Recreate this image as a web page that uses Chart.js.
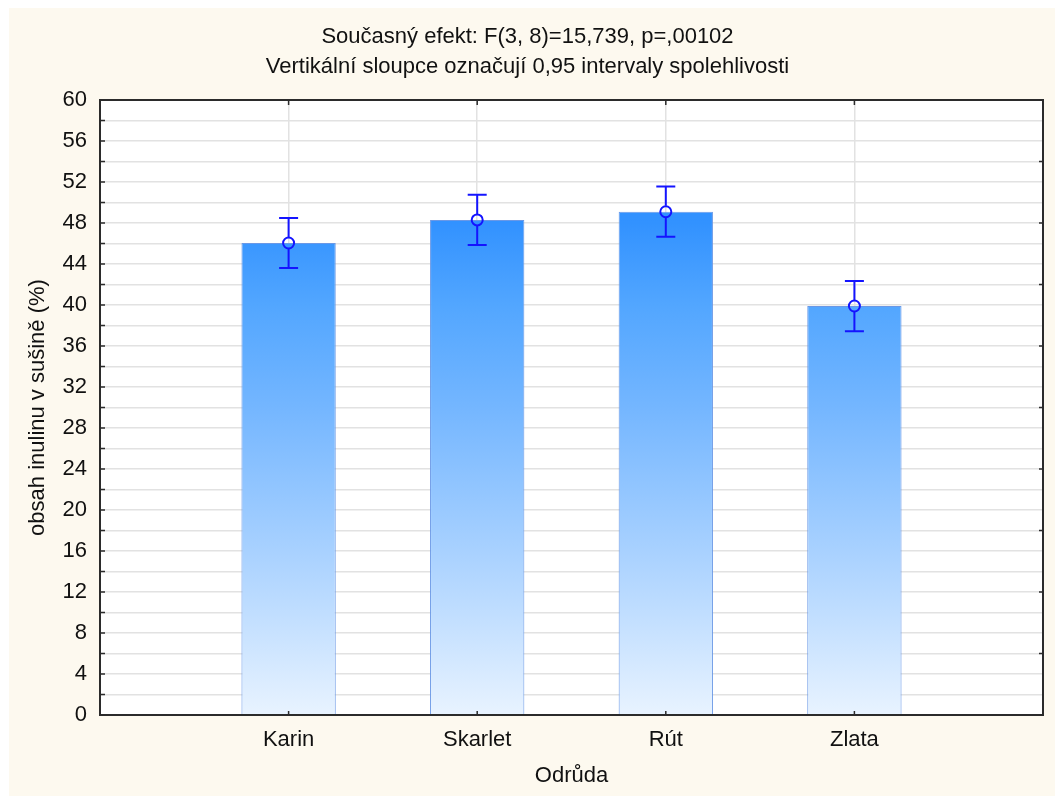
<!DOCTYPE html>
<html>
<head>
<meta charset="utf-8">
<script src="https://cdn.jsdelivr.net/npm/chart.js@4.4.1/dist/chart.umd.min.js"></script>
<style>
  html, body { margin: 0; padding: 0; background: #ffffff; }
  #wrap { position: absolute; left: 9px; top: 8px; width: 1046px; height: 788px; }
  canvas { display: block; }
</style>
</head>
<body>
<div id="wrap"><canvas id="c" width="1046" height="788"></canvas></div>
<script>
// ---- data ----
const categories = ['Karin', 'Skarlet', 'Rút', 'Zlata'];
const means = [46.05, 48.3, 49.1, 39.9];
const ciLower = [43.6, 45.85, 46.65, 37.45];
const ciUpper = [48.5, 50.75, 51.55, 42.35];
const yTicks = { min: 0, max: 60, step: 2, labelEvery: 4, rightEvery: 6 };
const titleLines = ['Současný efekt: F(3, 8)=15,739, p=,00102', 'Vertikální sloupce označují 0,95 intervaly spolehlivosti'];
const xTitle = 'Odrůda';
const yTitle = 'obsah inulinu v sušině (%)';

const FONT = "'Liberation Sans', Arial, Helvetica, sans-serif";
Chart.defaults.font.family = FONT;
Chart.defaults.color = '#111111';

const points = categories.map((c, i) => ({ x: i + 1, y: means[i] }));
const xMax = categories.length + 1;

const bgPlugin = {
  id: 'bg',
  beforeDraw(chart) {
    const { ctx, chartArea: a } = chart;
    ctx.save();
    ctx.fillStyle = '#fdf9ef';
    ctx.fillRect(0, 0, chart.width, chart.height);
    ctx.fillStyle = '#ffffff';
    ctx.fillRect(a.left, a.top, a.right - a.left, a.bottom - a.top);
    ctx.restore();
  }
};

const overlayPlugin = {
  id: 'overlay',
  afterDatasetsDraw(chart) {
    const { ctx, chartArea: a, scales: { x, y } } = chart;
    ctx.save();
    // error bars
    ctx.strokeStyle = '#1414ff';
    ctx.lineWidth = 2;
    const r = 6;
    categories.forEach((c, i) => {
      const px = x.getPixelForValue(i + 1);
      const pt = y.getPixelForValue(ciUpper[i]);
      const pb = y.getPixelForValue(ciLower[i]);
      const pm = y.getPixelForValue(means[i]);
      ctx.beginPath();
      ctx.moveTo(px, pt); ctx.lineTo(px, pm - r);
      ctx.moveTo(px, pm + r); ctx.lineTo(px, pb);
      ctx.moveTo(px - 9.5, pt); ctx.lineTo(px + 9.5, pt);
      ctx.moveTo(px - 9.5, pb); ctx.lineTo(px + 9.5, pb);
      ctx.stroke();
    });
    // frame
    ctx.strokeStyle = '#2b2b2b';
    ctx.lineWidth = 2;
    ctx.strokeRect(a.left, a.top, a.right - a.left, a.bottom - a.top);
    // inward ticks
    ctx.lineWidth = 1.5;
    ctx.beginPath();
    y.ticks.forEach(t => {
      const py = y.getPixelForValue(t.value);
      ctx.moveTo(a.left, py); ctx.lineTo(a.left + 5, py);
      if (t.value % yTicks.rightEvery === 0) { ctx.moveTo(a.right, py); ctx.lineTo(a.right - 4, py); }
    });
    x.ticks.forEach(t => {
      if (t.value < 1 || t.value > categories.length) return;
      const px = x.getPixelForValue(t.value);
      ctx.moveTo(px, a.bottom); ctx.lineTo(px, a.bottom - 4);
      ctx.moveTo(px, a.top); ctx.lineTo(px, a.top + 5);
    });
    ctx.stroke();
    ctx.restore();
  }
};

new Chart(document.getElementById('c'), {
  data: {
    datasets: [
      {
        type: 'line',
        data: points,
        showLine: false,
        pointRadius: 5.5,
        pointHoverRadius: 5.5,
        pointBorderWidth: 2,
        pointBorderColor: '#1414ff',
        pointBackgroundColor: 'rgba(0,0,0,0)',
        order: 0
      },
      {
        type: 'bar',
        data: points,
        barPercentage: 0.5,
        categoryPercentage: 1,
        borderWidth: 1,
        borderColor: '#6a98e6',
        order: 1,
        backgroundColor(ctx) {
          const area = ctx.chart.chartArea;
          if (!area) return '#5aa8ff';
          const g = ctx.chart.ctx.createLinearGradient(0, area.bottom, 0, area.top);
          g.addColorStop(0, '#e8f3ff');
          g.addColorStop(0.25, '#acd3ff');
          g.addColorStop(0.5, '#74b6ff');
          g.addColorStop(0.667, '#52a6ff');
          g.addColorStop(0.8, '#3292ff');
          g.addColorStop(1, '#1c82ff');
          return g;
        }
      }
    ]
  },
  options: {
    responsive: false,
    devicePixelRatio: 1,
    animation: false,
    layout: { padding: { left: 0, right: 9, top: 0, bottom: 0 } },
    plugins: {
      legend: { display: false },
      tooltip: { enabled: false },
      title: {
        display: true,
        text: titleLines,
        color: '#111111',
        font: { family: FONT, size: 22, weight: 'normal', lineHeight: 30 / 22 },
        padding: { top: 14, bottom: 18 }
      }
    },
    scales: {
      x: {
        type: 'linear',
        min: 0,
        max: xMax,
        offset: false,
        afterFit(s) { s.height = 81; },
        grid: {
          offset: false,
          drawTicks: false,
          lineWidth: 1.5,
          color(ctx) {
            const v = ctx.tick ? ctx.tick.value : 0;
            return (v < 1 || v > categories.length) ? 'rgba(0,0,0,0)' : '#e2e2e2';
          }
        },
        border: { display: false },
        ticks: {
          stepSize: 1,
          padding: 12,
          autoSkip: false,
          maxRotation: 0,
          color: '#111111',
          font: { size: 22 },
          callback(v) { return (v >= 1 && v <= categories.length) ? categories[v - 1] : ''; }
        },
        title: {
          display: true,
          text: xTitle,
          color: '#111111',
          font: { size: 22 },
          padding: { top: 0, bottom: 7 }
        }
      },
      y: {
        type: 'linear',
        min: yTicks.min,
        max: yTicks.max,
        afterFit(s) { s.width = 91; },
        grid: { drawTicks: false, lineWidth: 1.5, color: '#e2e2e2' },
        border: { display: false },
        ticks: {
          stepSize: yTicks.step,
          padding: 13,
          autoSkip: false,
          color: '#111111',
          font: { size: 22 },
          callback(v) { return v % yTicks.labelEvery === 0 ? v : ''; }
        },
        title: {
          display: true,
          text: yTitle,
          color: '#111111',
          font: { size: 22 },
          padding: { top: 16, bottom: 0 }
        }
      }
    }
  },
  plugins: [bgPlugin, overlayPlugin]
});
</script>
</body>
</html>
